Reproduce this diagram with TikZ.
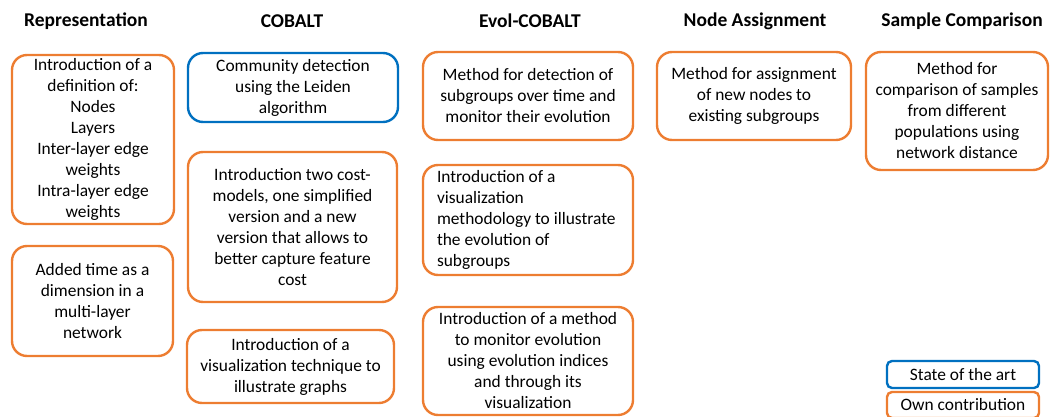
\documentclass[tikz,border=0pt]{standalone}
\usepackage{fontspec}
\setmainfont{Carlito}
\definecolor{own}{RGB}{237,125,49}
\definecolor{sota}{RGB}{0,112,192}
\begin{document}
\begin{tikzpicture}[x=1pt,y=-1pt,
  every node/.style={font=\fontsize{17.4}{21}\selectfont, inner sep=0pt},
  title/.style={font=\fontsize{19.5}{22}\selectfont\bfseries},
  box/.style={draw, line width=2.4pt, rounded corners=15pt, align=center},
  ownbox/.style={box, draw=own},
  sotabox/.style={box, draw=sota},
  legend/.style={draw, line width=2.4pt, rounded corners=5pt, align=center}]
\useasboundingbox (0,0) rectangle (1050,417);

% column headings
\node[title] (hRep) at (86,21) {Representation};
\node[title] (hCob) at (292,21) {COBALT};
\node[title] (hEvo) at (530,21) {Evol-COBALT};
\node[title] (hNod) at (755,21) {Node Assignment};
\node[title] (hSam) at (962,21) {Sample Comparison};

% Representation
\node[ownbox, minimum width=162pt, minimum height=169pt] (rep1) at (93,139.5)
  {Introduction of a\\definition of:\\Nodes\\Layers\\Inter-layer edge\\weights\\Intra-layer edge\\weights};
\node[ownbox, minimum width=161pt, minimum height=110pt] (rep2) at (92.5,301)
  {Added time as a\\dimension in a\\multi-layer\\network};

% COBALT
\node[sotabox, minimum width=210pt, minimum height=69pt] (cob1) at (293,87.5)
  {Community detection\\using the Leiden\\algorithm};
\node[ownbox, minimum width=209pt, minimum height=150pt] (cob2) at (292.5,227)
  {Introduction two cost-\\models, one simplified\\version and a new\\version that allows to\\better capture feature\\cost};
\node[ownbox, minimum width=207pt, minimum height=73pt] (cob3) at (290.5,366.5)
  {Introduction of a\\visualization technique to\\illustrate graphs};

% Evol-COBALT
\node[ownbox, minimum width=210pt, minimum height=88pt] (evo1) at (528,96)
  {Method for detection of\\subgroups over time and\\monitor their evolution};
\node[ownbox, minimum width=210pt, minimum height=110pt, align=flush left, text width=182pt] (evo2) at (528,220)
  {Introduction of a\\visualization\\methodology to illustrate\\the evolution of\\subgroups};
\node[ownbox, minimum width=210pt, minimum height=108pt] (evo3) at (528,361)
  {Introduction of a method\\to monitor evolution\\using evolution indices\\and through its\\visualization};

% Node Assignment
\node[ownbox, minimum width=194pt, minimum height=88pt] (nod1) at (754,96)
  {Method for assignment\\of new nodes to\\existing subgroups};

% Sample Comparison
\node[ownbox, minimum width=182pt, minimum height=118pt] (sam1) at (957,111)
  {Method for\\comparison of samples\\from different\\populations using\\network distance};

% legend
\node[legend, draw=sota, minimum width=152pt, minimum height=27pt] (legS) at (963,374.5) {State of the art};
\node[legend, draw=own, minimum width=152pt, minimum height=26pt] (legO) at (963,405) {Own contribution};
\end{tikzpicture}
\end{document}
